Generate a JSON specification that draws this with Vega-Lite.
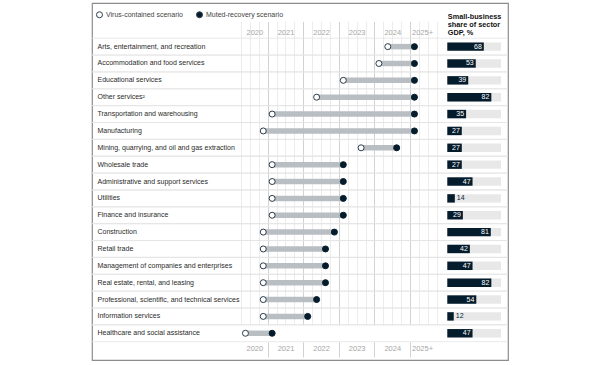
{
  "$schema": "https://vega.github.io/schema/vega-lite/v6.json",
  "width": 416,
  "height": 357,
  "autosize": {"type": "none"},
  "padding": {"left": 92, "top": 3, "right": 92, "bottom": 5},
  "background": "white",
  "config": {
    "view": {"stroke": "#8c8c8c", "strokeWidth": 1.2},
    "font": "Liberation Sans",
    "axis": {"labelFont": "Liberation Sans", "titleFont": "Liberation Sans"},
    "legend": {"labelFont": "Liberation Sans"}
  },
  "data": {
    "values": [
      {"sector": "Arts, entertainment, and recreation", "virus": 2024.375, "muted": 2025.125, "share": 68},
      {"sector": "Accommodation and food services", "virus": 2024.125, "muted": 2025.125, "share": 53},
      {"sector": "Educational services", "virus": 2023.125, "muted": 2025.125, "share": 39},
      {"sector": "Other services²", "virus": 2022.375, "muted": 2025.125, "share": 82},
      {"sector": "Transportation and warehousing", "virus": 2021.125, "muted": 2025.125, "share": 35},
      {"sector": "Manufacturing", "virus": 2020.875, "muted": 2025.125, "share": 27},
      {"sector": "Mining, quarrying, and oil and gas extraction", "virus": 2023.625, "muted": 2024.625, "share": 27},
      {"sector": "Wholesale trade", "virus": 2021.125, "muted": 2023.125, "share": 27},
      {"sector": "Administrative and support services", "virus": 2021.125, "muted": 2023.125, "share": 47},
      {"sector": "Utilities", "virus": 2021.125, "muted": 2023.125, "share": 14},
      {"sector": "Finance and insurance", "virus": 2021.125, "muted": 2023.125, "share": 29},
      {"sector": "Construction", "virus": 2020.875, "muted": 2022.875, "share": 81},
      {"sector": "Retail trade", "virus": 2020.875, "muted": 2022.625, "share": 42},
      {"sector": "Management of companies and enterprises", "virus": 2020.875, "muted": 2022.625, "share": 47},
      {"sector": "Real estate, rental, and leasing", "virus": 2020.875, "muted": 2022.625, "share": 82},
      {"sector": "Professional, scientific, and technical services", "virus": 2020.875, "muted": 2022.375, "share": 54},
      {"sector": "Information services", "virus": 2020.875, "muted": 2022.125, "share": 12},
      {"sector": "Healthcare and social assistance", "virus": 2020.375, "muted": 2021.125, "share": 47}
    ]
  },
  "encoding": {
    "y": {
      "field": "sector",
      "type": "nominal",
      "sort": null,
      "scale": {"range": [35.2, 338.7], "paddingInner": 0, "paddingOuter": 0},
      "axis": {
        "orient": "left",
        "title": null,
        "domain": false,
        "ticks": false,
        "tickSize": 0,
        "grid": false,
        "labelAlign": "left",
        "labelBaseline": "middle",
        "labelPadding": -5,
        "labelFontSize": 7,
        "labelColor": "#2a2a2a",
        "labelLimit": 300
      }
    }
  },
  "layer": [
    {
      "mark": {"type": "rule", "color": "#e3e3e3", "strokeWidth": 0.8},
      "encoding": {"y": {"field": "sector", "type": "nominal", "sort": null, "bandPosition": 0}}
    },
    {
      "mark": {"type": "rule", "color": "#e3e3e3", "strokeWidth": 0.8},
      "encoding": {"y": {"field": "sector", "type": "nominal", "sort": null, "bandPosition": 1}}
    },
    {
      "layer": [
        {
          "mark": {"type": "rule", "color": "#b9bec3", "strokeWidth": 5.5, "strokeCap": "butt"},
          "encoding": {
            "x": {
              "field": "virus",
              "type": "quantitative",
              "scale": {"domain": [2020.25, 2025.75], "range": [149, 344.7], "nice": false, "zero": false},
              "axis": {
                "orient": "bottom",
                "values": [2020.25, 2020.5, 2020.75, 2021, 2021.25, 2021.5, 2021.75, 2022, 2022.25, 2022.5, 2022.75, 2023, 2023.25, 2023.5, 2023.75, 2024, 2024.25, 2024.5, 2024.75, 2025, 2025.25, 2025.5, 2025.75],
                "labels": false,
                "ticks": false,
                "domain": false,
                "grid": true,
                "gridColor": {"condition": {"test": "datum.value % 1 === 0", "value": "#d2d2d2"}, "value": "#ececec"},
                "gridWidth": 1,
                "title": null
              }
            },
            "x2": {"field": "muted"}
          }
        },
        {
          "mark": {"type": "point", "filled": true, "size": 36, "stroke": "#2e3d4d", "strokeWidth": 1, "opacity": 1},
          "encoding": {
            "x": {
              "field": "virus",
              "type": "quantitative",
              "axis": {
                "orient": "top",
                "offset": -35.2,
                "values": [2020.625, 2021, 2022, 2023, 2024, 2025],
                "labelExpr": "datum.value < 2021 ? '2020' : datum.value == 2025 ? '2025+' : format(datum.value, 'd')",
                "labelOffset": {"condition": [{"test": "datum.value < 2021", "value": 0}, {"test": "datum.value == 2025", "value": 12}], "value": 17.8},
                "ticks": true,
                "tickSize": 16.2,
                "tickWidth": 1,
                "tickColor": {"condition": {"test": "datum.value < 2021", "value": "transparent"}, "value": "#d2d2d2"},
                "labelPadding": -10.5,
                "labelBaseline": "middle",
                "labelFontSize": 7.5,
                "labelColor": "#a6a6a6",
                "labelFlush": false,
                "labelOverlap": false,
                "domain": false,
                "grid": false,
                "title": null
              }
            },
            "fill": {
              "datum": "Virus-contained scenario",
              "type": "nominal",
              "scale": {"domain": ["Virus-contained scenario", "Muted-recovery scenario"], "range": ["#ffffff", "#051c2c"]},
              "legend": {
                "orient": "none",
                "legendX": 4,
                "legendY": 8,
                "direction": "horizontal",
                "title": null,
                "labelFontSize": 7,
                "labelColor": "#444444",
                "symbolSize": 36,
                "symbolType": "circle",
                "symbolStrokeColor": "#2e3d4d",
                "symbolStrokeWidth": 1,
                "columnPadding": 11,
                "labelOffset": 3,
                "padding": 0
              }
            }
          }
        },
        {
          "mark": {"type": "point", "filled": true, "size": 36, "stroke": "#051c2c", "strokeWidth": 1, "opacity": 1},
          "encoding": {
            "x": {
              "field": "muted",
              "type": "quantitative",
              "axis": {
                "orient": "bottom",
                "offset": -18.3,
                "values": [2020.625, 2021, 2022, 2023, 2024, 2025],
                "labelExpr": "datum.value < 2021 ? '2020' : datum.value == 2025 ? '2025+' : format(datum.value, 'd')",
                "labelOffset": {"condition": [{"test": "datum.value < 2021", "value": 0}, {"test": "datum.value == 2025", "value": 12}], "value": 17.8},
                "ticks": true,
                "tickSize": 15.3,
                "tickWidth": 1,
                "tickColor": {"condition": {"test": "datum.value < 2021", "value": "transparent"}, "value": "#d2d2d2"},
                "labelPadding": -9,
                "labelBaseline": "middle",
                "labelFontSize": 7.5,
                "labelColor": "#a6a6a6",
                "labelFlush": false,
                "labelOverlap": false,
                "domain": false,
                "grid": false,
                "title": null
              }
            },
            "fill": {"datum": "Muted-recovery scenario", "type": "nominal"}
          }
        }
      ],
      "resolve": {"axis": {"x": "independent"}}
    },
    {
      "layer": [
        {
          "mark": {"type": "bar", "color": "#e8e8e8", "height": {"band": 0.5}},
          "encoding": {
            "x": {
              "datum": 100,
              "type": "quantitative",
              "scale": {"domain": [0, 100], "range": [355.3, 409], "nice": false},
              "axis": {
                "orient": "top",
                "labels": false,
                "ticks": false,
                "domain": false,
                "grid": false,
                "title": ["Small-business", "share of sector", "GDP, %"],
                "titleFontSize": 7.3,
                "titleFontWeight": "bold",
                "titleColor": "#111111",
                "titleAnchor": "start",
                "titleAlign": "left",
                "titleBaseline": "top",
                "titleX": 355.3,
                "titleY": 9,
                "titleLineHeight": 8.4,
                "titlePadding": 0
              }
            }
          }
        },
        {
          "mark": {"type": "bar", "color": "#051c2c", "height": {"band": 0.5}},
          "encoding": {"x": {"field": "share", "type": "quantitative"}}
        },
        {
          "transform": [{"filter": "datum.share >= 20"}],
          "mark": {"type": "text", "align": "right", "baseline": "middle", "dx": -2, "color": "#ffffff", "fontSize": 7},
          "encoding": {"x": {"field": "share", "type": "quantitative"}, "text": {"field": "share"}}
        },
        {
          "transform": [{"filter": "datum.share < 20"}],
          "mark": {"type": "text", "align": "left", "baseline": "middle", "dx": 2, "color": "#051c2c", "fontSize": 7},
          "encoding": {"x": {"field": "share", "type": "quantitative"}, "text": {"field": "share"}}
        }
      ]
    }
  ],
  "resolve": {"scale": {"x": "independent"}, "axis": {"x": "independent"}}
}
